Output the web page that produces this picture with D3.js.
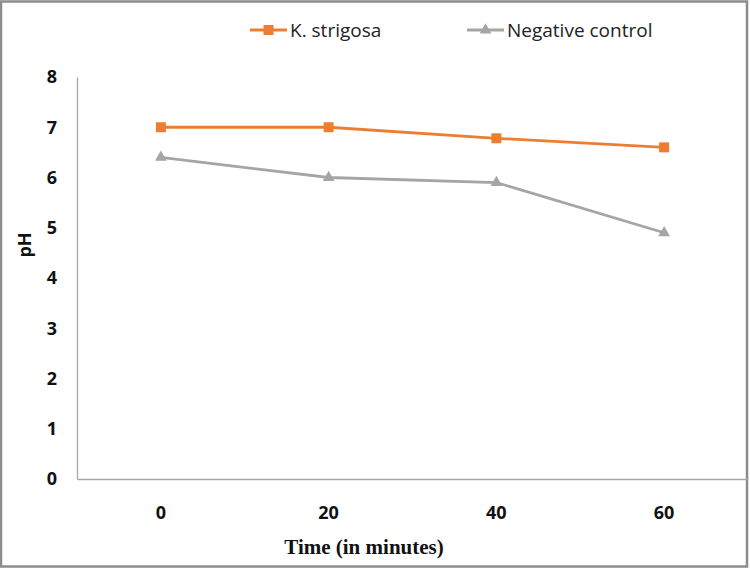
<!DOCTYPE html>
<html>
<head>
<meta charset="utf-8">
<script src="https://cdn.jsdelivr.net/npm/d3@7"></script>
<style>
  html, body { margin: 0; padding: 0; background: #fff; }
  svg { display: block; }
</style>
</head>
<body>
<div id="chart"></div>
<script>
// data
var time_labels = ['0', '20', '40', '60'];
var strigosa_vals = [7.0, 7.0, 6.78, 6.6];
var negative_vals = [6.4, 6.0, 5.9, 4.9];
var y_ticks = [0, 1, 2, 3, 4, 5, 6, 7, 8];

var series = [
  {name: 'K. strigosa', values: strigosa_vals, color: '#ED7D31', marker: 'square'},
  {name: 'Negative control', values: negative_vals, color: '#A5A5A5', marker: 'triangle'}
];

var width = 750, height = 568;
var plot = {left: 77, right: 748, top: 77, bottom: 479};

var svg = d3.select('#chart')
  .append('svg')
  .attr('width', width)
  .attr('height', height);

// outer frame of the picture
svg.append('rect')
  .attr('x', 1).attr('y', 1.5)
  .attr('width', width - 4).attr('height', height - 3)
  .style('fill', 'white')
  .style('stroke', '#8c8c8c')
  .style('stroke-width', 2.5);

var x = d3.scaleBand()
  .domain(time_labels)
  .range([plot.left, plot.right]);

var y = d3.scaleLinear()
  .domain([0, 8])
  .range([plot.bottom, plot.top]);

var tick_font = '"Open Sans", "Liberation Sans", Arial, sans-serif';

// y axis
var y_axis = svg.append('g')
  .attr('transform', 'translate(' + plot.left + ',0)')
  .call(d3.axisLeft(y).tickValues(y_ticks).tickSize(0).tickPadding(20).tickFormat(d3.format('d')));

y_axis.select('.domain').style('stroke', '#a6a6a6').style('stroke-width', 1.3);
y_axis.selectAll('text')
  .style('font-family', tick_font)
  .style('font-weight', 'bold')
  .style('font-size', '18px')
  .style('fill', '#111');

// x axis
var x_axis = svg.append('g')
  .attr('transform', 'translate(0,' + plot.bottom + ')')
  .call(d3.axisBottom(x).tickSize(0).tickPadding(27));

x_axis.select('.domain').style('stroke', '#a6a6a6').style('stroke-width', 1.3);
x_axis.selectAll('text')
  .style('font-family', tick_font)
  .style('font-weight', 'bold')
  .style('font-size', '18px')
  .style('fill', '#111');

// axis titles
svg.append('text')
  .text('Time (in minutes)')
  .attr('x', 364)
  .attr('y', 554)
  .style('text-anchor', 'middle')
  .style('font-family', '"Liberation Serif", "Times New Roman", serif')
  .style('font-weight', 'bold')
  .style('font-size', '21px')
  .style('fill', '#111');

svg.append('text')
  .text('pH')
  .attr('transform', 'translate(31,245) rotate(-90)')
  .style('text-anchor', 'middle')
  .style('font-family', tick_font)
  .style('font-weight', 'bold')
  .style('font-size', '18px')
  .style('fill', '#111');

var line = d3.line()
  .x(function(d, i){ return x(time_labels[i]) + x.bandwidth() / 2; })
  .y(function(d){ return y(d); });

function draw_marker(g, kind, color){
  if (kind == 'square'){
    g.append('rect')
      .attr('x', -5).attr('y', -5)
      .attr('width', 10).attr('height', 10)
      .style('fill', color);
  } else {
    g.append('path')
      .attr('d', d3.symbol().type(d3.symbolTriangle).size(60))
      .style('fill', color);
  }
}

series.forEach(function(s){
  svg.append('path')
    .datum(s.values)
    .attr('d', line)
    .style('fill', 'none')
    .style('stroke', s.color)
    .style('stroke-width', 2.8);

  s.values.forEach(function(v, i){
    var g = svg.append('g')
      .attr('transform', 'translate(' + (x(time_labels[i]) + x.bandwidth() / 2) + ',' + y(v) + ')');
    draw_marker(g, s.marker, s.color);
  });
});

// legend
var legend_pos = [250, 467];
var legend_font = '"Liberation Sans Narrow", "Open Sans", Arial, sans-serif';
series.forEach(function(s, i){
  var lg = svg.append('g')
    .attr('transform', 'translate(' + legend_pos[i] + ',30)');

  lg.append('line')
    .attr('x1', 0).attr('x2', 37)
    .style('stroke', s.color)
    .style('stroke-width', 2.8);

  var mk = lg.append('g').attr('transform', 'translate(18.5,0)');
  draw_marker(mk, s.marker, s.color);

  lg.append('text')
    .text(s.name)
    .attr('x', 40)
    .attr('y', 6.5)
    .style('font-family', legend_font)
    .style('font-size', '19px')
    .style('fill', '#222');
});
</script>
</body>
</html>
